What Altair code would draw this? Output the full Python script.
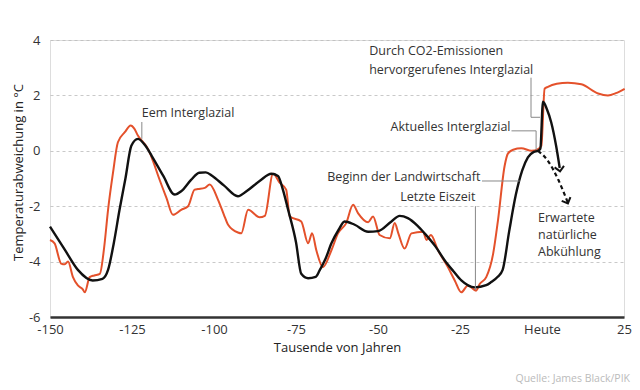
import altair as alt
import pandas as pd

# ---- data -------------------------------------------------------------
black_x = [-150, -145.5, -141.5, -137, -134, -132.3, -130.5, -128.8, -127, -125.2, -123.2, -121,
           -119, -115.5, -112, -110, -107, -104.5, -102.5, -100.5, -97, -92.7, -90, -86, -82.5,
           -80.5, -79, -77.4, -75, -73.4, -71.3, -69, -67.8, -66, -64.2, -62, -60.2, -57.1, -53,
           -50, -45.9, -43.4, -40.9, -38, -35.8, -32.5, -29.7, -27, -24.6, -20.5, -17, -15.5,
           -13.5, -12, -10, -8, -6, -4.3, -2.5, -1.2, -0.5, 0.3, 1.5, 2.8, 4.3, 5.4]
black_y = [-2.74, -3.57, -4.3, -4.68, -4.62, -4.3, -3.3, -2.13, -1.0, 0.18, 0.43, 0.2,
           -0.18, -0.9, -1.58, -1.46, -1.05, -0.79, -0.78, -0.91, -1.25, -1.64, -1.45, -1.08, -0.83,
           -0.91, -1.4, -2.13, -3.3, -4.44, -4.6, -4.55, -4.32, -3.9, -3.34, -2.85, -2.55, -2.67, -2.92,
           -2.9, -2.55, -2.35, -2.43, -2.7, -2.98, -3.45, -3.95, -4.35, -4.68, -4.93, -4.85, -4.74,
           -4.55, -4.3, -2.9, -1.6, -0.7, -0.24, -0.04, 0.0, 0.08, 1.77, 1.5, 1.03, 0.18, -0.62]

dash_x = [-1.2, 1.8, 4.9, 7.9]
dash_y = [0.0, -0.36, -1.03, -1.88]

red_x = [-150, -148.6, -146.6, -145.5, -144.5, -143, -141.5, -140, -139.4, -137.9, -136.5, -134.8,
         -133.5, -132.3, -130.8, -129.3, -127.2, -125.4, -124.3, -123.2, -121.5, -120.1, -118.5,
         -117, -114.5, -112.5, -110, -107.9, -105.9, -104.9, -102.8, -101.3, -98.8, -97, -95.7,
         -92.7, -91.7, -89.6, -86.1, -84.5, -82, -80, -78, -76.9, -73.4, -71.3, -70.1, -68.8,
         -66.8, -64.2, -62.2, -59.7, -57.6, -56.1, -53, -51.5, -49.5, -46.4, -44.9, -43.8, -41.9,
         -39.8, -36.3, -35.2, -33.9, -31.7, -28.7, -26.6, -24.6, -22.6, -20.1, -19.0, -17.0,
         -14.9, -13.4, -11.4, -10.4, -8.8, -6.3, -3.2, -1.2, -0.2, 0.8, 1.8, 4.5, 7.9, 12.0,
         17.1, 20.1, 22.5, 25.2]
red_y = [-3.22, -3.34, -4.07, -4.1, -4.0, -4.56, -4.86, -5.0, -5.11, -4.56, -4.5, -4.44,
         -3.5, -2.13, -0.8, 0.31, 0.67, 0.91, 0.8, 0.55, 0.3, 0.06, -0.4,
         -0.91, -1.7, -2.31, -2.13, -2.0, -1.4, -1.38, -1.34, -1.22, -1.76, -2.3, -2.67,
         -2.95, -2.98, -2.13, -2.4, -2.35, -0.83, -1.15, -1.4, -2.37, -2.55, -3.34, -2.98, -3.59,
         -4.2, -3.59, -2.98, -2.61, -1.95, -2.25, -2.58, -2.37, -3.04, -3.16, -2.61, -2.98, -3.53,
         -2.98, -2.92, -3.22, -3.04, -3.59, -4.2, -4.68, -5.11, -4.86, -5.05, -4.81, -4.56,
         -3.72, -2.49, -0.55, -0.1, 0.04, 0.09, 0.0, 0.06, 0.18, 2.24, 2.31, 2.42, 2.46, 2.4,
         2.07, 2.0, 2.08, 2.24]

x_ticks = [-150, -125, -100, -75, -50, -25, 0, 25]
y_ticks = [-6, -4, -2, 0, 2, 4]

# annotations: text, x, y, align
ann_text = ["Eem Interglazial", "Durch CO2-Emissionen", "hervorgerufenes Interglazial",
            "Aktuelles Interglazial", "Beginn der Landwirtschaft", "Letzte Eiszeit",
            "Erwartete", "natürliche", "Abkühlung"]
ann_x = [-122, -52.7, -52.7, -9.6, -18.8, -20.3, -1.2, -1.2, -1.2]
ann_y = [1.37, 3.59, 2.93, 0.86, -0.95, -1.66, -2.42, -3.03, -3.64]
ann_align = ["left", "left", "left", "right", "right", "right", "left", "left", "left"]

# leader segments: x, y, x2, y2
seg_x = [-122, -3.35, -3.35, -9.3, -1.8, -18.3, -20.3]
seg_y = [1.04, 2.64, 1.21, 0.72, 0.72, -1.09, -2.0]
seg_x2 = [-122, -3.35, -0.6, -1.8, -1.8, -6.8, -20.3]
seg_y2 = [0.43, 1.21, 1.21, 0.72, 0.03, -1.09, -5.03]

# arrow heads: x, y, angle
head_x = [5.5, 7.9]
head_y = [-0.74, -1.9]
head_angle = [351, 337]

# ---- chart ------------------------------------------------------------
FONT = "Open Sans"
RED = "#e4512b"
xs = alt.Scale(domain=[-150, 25], nice=False, zero=False)
ys = alt.Scale(domain=[-6, 4], nice=False, zero=False)

black_df = pd.DataFrame({"x": black_x, "y": black_y})
dash_df = pd.DataFrame({"x": dash_x, "y": dash_y})
red_df = pd.DataFrame({"x": red_x, "y": red_y})
ann_df = pd.DataFrame({"t": ann_text, "x": ann_x, "y": ann_y, "a": ann_align})
seg_df = pd.DataFrame({"x": seg_x, "y": seg_y, "x2": seg_x2, "y2": seg_y2})
head_df = pd.DataFrame({"x": head_x, "y": head_y, "ang": head_angle})

xaxis = alt.Axis(values=x_ticks, title="Tausende von Jahren", grid=False, ticks=False,
                 domainColor="#333", domainWidth=2.5, labelFlush=False,
                 labelExpr="datum.value == 0 ? 'Heute' : '' + datum.value",
                 labelFont=FONT, labelFontSize=13, labelColor="#333", labelPadding=6,
                 titleFont=FONT, titleFontSize=13, titleFontWeight="normal", titleColor="#222",
                 titleY=30, titleBaseline="middle")
yaxis = alt.Axis(values=y_ticks, title="Temperaturabweichung in °C", domain=False, ticks=False,
                 grid=True, gridDash=[3, 3], gridColor="#bbb", gridWidth=0.8, labelFlush=False,
                 labelExpr="'' + datum.value",
                 labelFont=FONT, labelFontSize=13, labelColor="#333", labelPadding=10,
                 titleFont=FONT, titleFontSize=13, titleFontWeight="normal", titleColor="#222",
                 titleX=-32, titleY=132, titleBaseline="middle")

base_grid = alt.Chart(pd.DataFrame({"y": y_ticks})).mark_rule(opacity=0).encode(
    x=alt.value(0),
    y=alt.Y("y:Q", scale=ys, axis=yaxis),
)

red_line = alt.Chart(red_df).mark_line(color=RED, strokeWidth=2, interpolate="monotone").encode(
    x=alt.X("x:Q", scale=xs, axis=xaxis),
    y=alt.Y("y:Q", scale=ys),
)
black_line = alt.Chart(black_df).mark_line(color="#111", strokeWidth=2.4, interpolate="monotone").encode(
    x=alt.X("x:Q", scale=xs),
    y=alt.Y("y:Q", scale=ys),
)
dash_line = alt.Chart(dash_df).mark_line(color="#111", strokeWidth=2.2, strokeDash=[4, 3],
                                         interpolate="monotone").encode(
    x=alt.X("x:Q", scale=xs),
    y=alt.Y("y:Q", scale=ys),
)
heads = alt.Chart(head_df).mark_point(shape="M-1,-1L0,0L1,-1", filled=False, color="#111",
                                      strokeWidth=2, size=90, opacity=1).encode(
    x=alt.X("x:Q", scale=xs),
    y=alt.Y("y:Q", scale=ys),
    angle=alt.Angle("ang:Q", scale=None),
)
segs = alt.Chart(seg_df).mark_rule(color="#888", strokeWidth=1).encode(
    x=alt.X("x:Q", scale=xs), y=alt.Y("y:Q", scale=ys),
    x2="x2:Q", y2="y2:Q",
)
ann_left = alt.Chart(ann_df[ann_df.a == "left"]).mark_text(
    align="left", baseline="middle", font=FONT, fontSize=12.5, color="#333").encode(
    x=alt.X("x:Q", scale=xs), y=alt.Y("y:Q", scale=ys), text="t:N")
ann_right = alt.Chart(ann_df[ann_df.a == "right"]).mark_text(
    align="right", baseline="middle", font=FONT, fontSize=12.5, color="#333").encode(
    x=alt.X("x:Q", scale=xs), y=alt.Y("y:Q", scale=ys), text="t:N")
source = alt.Chart(pd.DataFrame({"t": ["Quelle: James Black/PIK"]})).mark_text(
    align="right", baseline="middle", font=FONT, fontSize=10.5, color="#bbb").encode(
    x=alt.value(580), y=alt.value(339), text="t:N")

chart = alt.layer(base_grid, red_line, black_line, dash_line, heads, segs,
                  ann_left, ann_right, source).properties(
    width=574, height=277,
    autosize=alt.AutoSizeParams(type="none"),
    padding={"left": 42, "top": 32, "right": 8, "bottom": 72},
).configure_view(stroke=None).configure(background="white")

chart.save("out.html", embed_options={"renderer": "svg", "actions": False})
